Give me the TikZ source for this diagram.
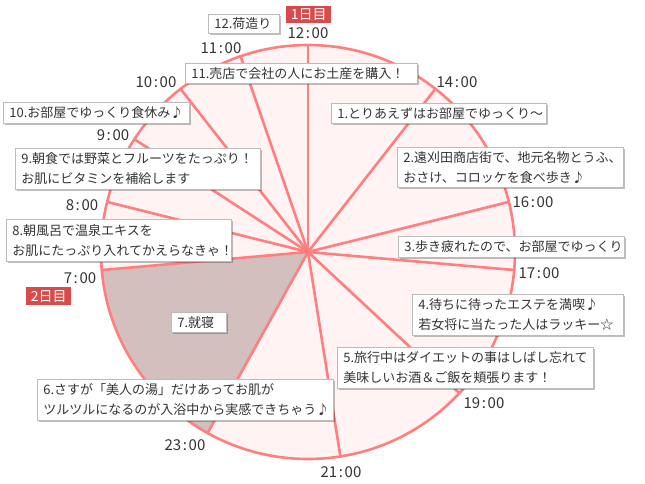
\documentclass[tikz,border=0pt]{standalone}
\usepackage{fontspec}
\setmainfont{Noto Sans CJK JP}
\usetikzlibrary{shadows}
\definecolor{pline}{HTML}{FF7F7F}
\definecolor{pfill}{HTML}{FFF3F3}
\definecolor{sleepfill}{HTML}{D4BFBF}
\definecolor{daybg}{HTML}{D94B4B}
\definecolor{txt}{HTML}{333333}
\definecolor{boxline}{HTML}{BBBBBB}
\newcommand{\hr}[2]{#1\kern1.6pt:\kern1.6pt#2}
\tikzset{
 memo/.style={draw=boxline, line width=0.8pt, fill=white, text=txt,
   font=\fontsize{13}{20}\selectfont, align=left, inner xsep=6pt, inner ysep=2pt,
   anchor=north west,
   drop shadow={shadow xshift=1.2pt, shadow yshift=-1.2pt, opacity=0.25, fill=black}},
 hour/.style={text=txt, font=\fontsize{15}{15}\selectfont, inner sep=0pt},
 daytag/.style={fill=daybg, text=white, font=\fontsize{14}{14}\selectfont, inner sep=0pt, anchor=north west},
 spoke/.style={draw=pline, line width=2.6pt},
}
\begin{document}
\begin{tikzpicture}[x=1pt,y=-1pt]
\useasboundingbox (0,0) rectangle (645,484);
\coordinate (C) at (308,252);
\fill[pfill] (C) circle (207);
\fill[sleepfill] (C) -- plot[domain=209:265, samples=40] ({308+207*sin(\x)},{252-207*cos(\x)}) -- cycle;
\foreach \n/\a in {12/0,14/38,16/76,17/95,19/133,21/171,23/209,7/265,8/284,9/303,10/322,11/341}{
  \coordinate (p\n) at ({308+207*sin(\a)},{252-207*cos(\a)});
  \draw[spoke, line cap=round] (C) -- (p\n);
}
\draw[spoke] (C) circle (207);

% hour labels
\node[hour] (h12) at (308,33) {\hr{12}{00}};
\node[hour] (h11) at (221,48) {\hr{11}{00}};
\node[hour] (h10) at (156,82) {\hr{10}{00}};
\node[hour] (h9) at (113,135) {\hr{9}{00}};
\node[hour] (h8) at (82,205) {\hr{8}{00}};
\node[hour] (h7) at (80,278) {\hr{7}{00}};
\node[hour] (h14) at (457,82) {\hr{14}{00}};
\node[hour] (h16) at (533,202) {\hr{16}{00}};
\node[hour] (h17) at (539,273) {\hr{17}{00}};
\node[hour] (h19) at (484,403) {\hr{19}{00}};
\node[hour] (h21) at (341,472) {\hr{21}{00}};
\node[hour] (h23) at (185,445) {\hr{23}{00}};

% day tags
\node[daytag, minimum width=45pt, minimum height=17pt] (d1) at (286,6) {1日目};
\node[daytag, minimum width=45pt, minimum height=18pt] (d2) at (26,287) {2日目};

% memo boxes
\node[memo, text width=59pt, minimum height=19pt] (m12) at (208,14) {12.荷造り};
\node[memo, text width=220pt, minimum height=20pt] (m11) at (185,63) {11.売店で会社の人にお土産を購入！};
\node[memo, text width=203pt, minimum height=20pt] (m1) at (331,103) {1.とりあえずはお部屋でゆっくり〜};
\node[memo, text width=214pt, minimum height=40pt] (m2) at (397,147) {2.遠刈田商店街で、地元名物とうふ、\\おさけ、コロッケを食べ歩き♪};
\node[memo, text width=174pt, minimum height=21pt] (m10) at (3,102) {10.お部屋でゆっくり食休み♪};
\node[memo, text width=233pt, minimum height=41pt] (m9) at (15,148) {9.朝食では野菜とフルーツをたっぷり！\\お肌にビタミンを補給します};
\node[memo, text width=213pt, minimum height=42pt] (m8) at (6,219) {8.朝風呂で温泉エキスを\\お肌にたっぷり入れてかえらなきゃ！};
\node[memo, text width=43pt, minimum height=20pt] (m7) at (171,312) {7.就寝};
\node[memo, text width=214pt, minimum height=21pt] (m3) at (398,236) {3.歩き疲れたので、お部屋でゆっくり};
\node[memo, text width=199pt, minimum height=41pt] (m4) at (412,294) {4.待ちに待ったエステを満喫♪\\若女将に当たった人はラッキー☆};
\node[memo, text width=244pt, minimum height=41pt] (m5) at (337,347) {5.旅行中はダイエットの事はしばし忘れて\\美味しいお酒＆ご飯を頬張ります！};
\node[memo, text width=284pt, minimum height=41pt] (m6) at (37,379) {6.さすが「美人の湯」だけあってお肌が\\ツルツルになるのが入浴中から実感できちゃう♪};
\end{tikzpicture}
\end{document}
